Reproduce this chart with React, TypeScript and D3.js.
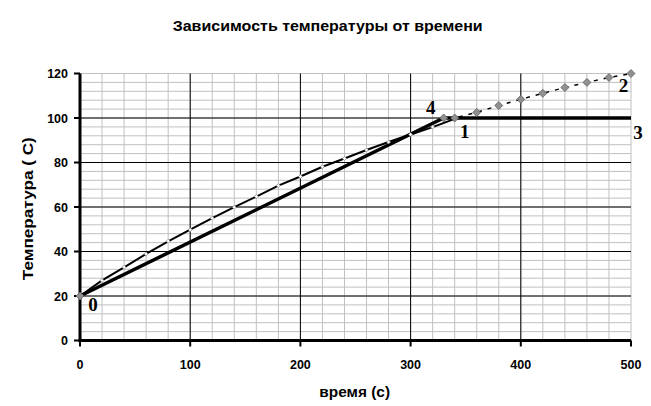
import React, { useEffect } from "react";
import * as d3 from "d3";

// readings from the picture
const thinTime = [0, 20, 40, 60, 80, 100, 120, 140, 160, 180, 200, 220, 240, 260, 280, 300, 320, 340];
const thinTemp = [20, 27, 32.9, 38.9, 44.6, 49.8, 55, 59.9, 64.7, 69.6, 73.7, 78.1, 81.8, 85.6, 89.2, 92.6, 95.9, 99.6];

const thickTime = [0, 330, 500];
const thickTemp = [20, 100, 100];

const dashTime = [0, 330, 340, 360, 380, 400, 420, 440, 460, 480, 500];
const dashTemp = [20, 100, 100, 102.5, 105.6, 108.4, 111.1, 113.7, 116, 118.2, 120];

const pointNames = ["0", "1", "2", "3", "4"];
const pointTime = [0, 340, 500, 500, 330];
const pointTemp = [20, 100, 120, 100, 100];
// label offsets (px) from the point
const pointDx = [13, 10, -7.5, 7, -13];
const pointDy = [15, 20, 18.5, 21, -4];

const xTicks = [0, 100, 200, 300, 400, 500];
const yTicks = [0, 20, 40, 60, 80, 100, 120];

const title = "Зависимость температуры от времени";
const xTitle = "время (с)";
const yTitle = "Температура ( С)";

let width = 651;
let height = 406;

export default function App() {
  useEffect(() => {
    document.body.style.margin = "0";
  }, []);

  const x = d3.scaleLinear().domain([0, 500]).range([80, 631]);
  const y = d3.scaleLinear().domain([0, 120]).range([340.5, 73.5]);

  const line = d3
    .line<[number, number]>()
    .x((d) => x(d[0]))
    .y((d) => y(d[1]));

  const thin = thinTime.map((t, i) => [t, thinTemp[i]] as [number, number]);
  const thick = thickTime.map((t, i) => [t, thickTemp[i]] as [number, number]);
  const dash = dashTime.map((t, i) => [t, dashTemp[i]] as [number, number]);

  const minorX = d3.range(0, 501, 20);
  const minorY = d3.range(0, 121, 4);

  const diamond = (cx: number, cy: number, r: number) =>
    `M${cx},${cy - r}L${cx + r},${cy}L${cx},${cy + r}L${cx - r},${cy}Z`;

  const font = "Arial, 'Liberation Sans', sans-serif";

  return (
    <svg width={width} height={height} style={{ display: "block" }}>
      <rect width={width} height={height} fill="#fff" />
      <text
        x={327.7}
        y={31}
        textAnchor="middle"
        fontFamily={font}
        fontWeight="bold"
        fontSize={14}
        textLength={310}
        lengthAdjust="spacingAndGlyphs"
      >
        {title}
      </text>

      {/* minor grid */}
      <g stroke="#c0c0c0" strokeWidth={1}>
        {minorX.map((t) => (
          <line key={"mx" + t} x1={x(t)} x2={x(t)} y1={y(120)} y2={y(0)} />
        ))}
        {minorY.map((t) => (
          <line key={"my" + t} x1={x(0)} x2={x(500)} y1={y(t)} y2={y(t)} />
        ))}
      </g>
      {/* major grid */}
      <g stroke="#000" strokeWidth={1}>
        {xTicks.slice(1, -1).map((t) => (
          <line key={"Mx" + t} x1={x(t)} x2={x(t)} y1={y(120)} y2={y(0)} />
        ))}
        {yTicks.slice(1, -1).map((t) => (
          <line key={"My" + t} x1={x(0)} x2={x(500)} y1={y(t)} y2={y(t)} />
        ))}
      </g>

      {/* axes */}
      <g stroke="#000">
        <line x1={x(0)} x2={x(0)} y1={y(120)} y2={y(0) + 1.5} strokeWidth={3} />
        <line x1={x(0) - 1.5} x2={x(500)} y1={y(0)} y2={y(0)} strokeWidth={3} />
        {yTicks.map((t) => (
          <line key={"ty" + t} x1={x(0) - 6} x2={x(0)} y1={y(t)} y2={y(t)} strokeWidth={2} />
        ))}
        {xTicks.map((t) => (
          <line key={"tx" + t} x1={x(t)} x2={x(t)} y1={y(0)} y2={y(0) + 6} strokeWidth={2} />
        ))}
      </g>
      <g fontFamily={font} fontWeight="bold" fontSize={12.5}>
        {yTicks.map((t) => (
          <text key={"ly" + t} x={68} y={y(t) + 4.5} textAnchor="end">
            {t}
          </text>
        ))}
        {xTicks.map((t) => (
          <text key={"lx" + t} x={x(t)} y={368.5} textAnchor="middle">
            {t}
          </text>
        ))}
      </g>
      <text
        x={354.7}
        y={397}
        textAnchor="middle"
        fontFamily={font}
        fontWeight="bold"
        fontSize={14}
        textLength={70.7}
        lengthAdjust="spacingAndGlyphs"
      >
        {xTitle}
      </text>
      <text
        transform={`translate(33,${208.7}) rotate(-90)`}
        textAnchor="middle"
        fontFamily={font}
        fontWeight="bold"
        fontSize={14}
        textLength={143}
        lengthAdjust="spacingAndGlyphs"
      >
        {yTitle}
      </text>

      {/* series */}
      <path d={line(dash) || ""} fill="none" stroke="#000" strokeWidth={1.5} strokeDasharray="4,6" />
      <path d={line(thick) || ""} fill="none" stroke="#000" strokeWidth={3.5} />
      <path d={line(thin) || ""} fill="none" stroke="#000" strokeWidth={2} />
      {thin.map((d, i) => (
        <path key={"tm" + i} d={diamond(x(d[0]), y(d[1]), 2)} fill="#fff" stroke="#808080" strokeWidth={0.6} />
      ))}
      {dash.map((d, i) => (
        <path key={"dm" + i} d={diamond(x(d[0]), y(d[1]), 4)} fill="#909090" stroke="#606060" strokeWidth={0.8} />
      ))}

      <g fontFamily="'Liberation Serif', 'Times New Roman', serif" fontWeight="bold" fontSize={19} textAnchor="middle">
        {pointNames.map((n, i) => (
          <text key={n} x={x(pointTime[i]) + pointDx[i]} y={y(pointTemp[i]) + pointDy[i]}>
            {n}
          </text>
        ))}
      </g>
    </svg>
  );
}
